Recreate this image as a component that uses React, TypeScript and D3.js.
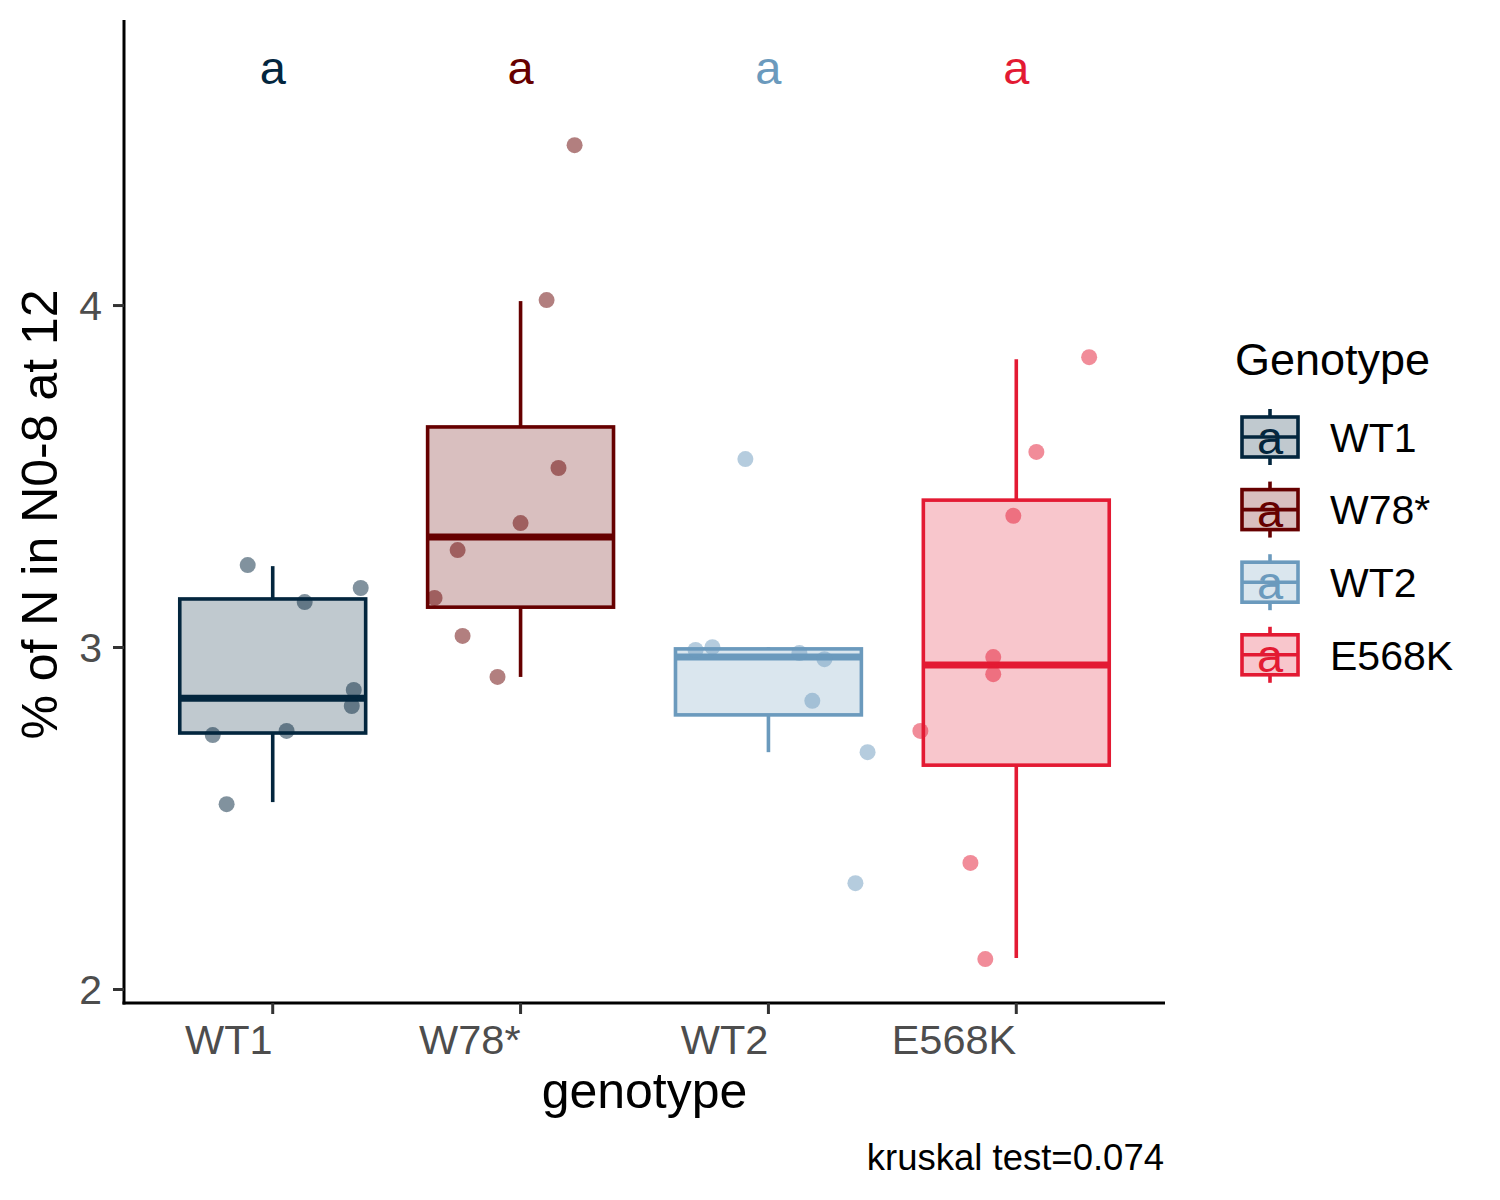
import { useMemo } from 'react'
import { scaleLinear, scalePoint } from 'd3'

// 유전자형별 N0-8 비율 박스플롯 — 박스 통계는 그림에서 읽은 값, 점은 지터 포함 개별 관측치.

const GENOTYPES = ['WT1', 'W78*', 'WT2', 'E568K']
const COLORS = ['#03263e', '#660000', '#6b9abd', '#e31a33']
const LETTERS = ['a', 'a', 'a', 'a']

// box stats: [lower whisker, q1, median, q3, upper whisker]
const WT1_BOX = [2.548, 2.75, 2.852, 3.142, 3.238]
const W78_BOX = [2.914, 3.118, 3.323, 3.645, 4.013]
const WT2_BOX = [2.694, 2.803, 2.972, 2.996, 3.001]
const E568K_BOX = [2.092, 2.656, 2.949, 3.431, 3.843]
const BOXES = [WT1_BOX, W78_BOX, WT2_BOX, E568K_BOX]

// observations + horizontal jitter (category units)
const WT1_VALUES = [3.241, 3.174, 3.133, 2.876, 2.829, 2.756, 2.744, 2.542]
const WT1_JITTER = [-0.101, 0.355, 0.129, 0.327, 0.319, 0.056, -0.242, -0.186]
const W78_VALUES = [4.469, 4.016, 3.525, 3.364, 3.285, 3.145, 3.034, 2.914]
const W78_JITTER = [0.218, 0.105, 0.153, 0.0, -0.254, -0.347, -0.234, -0.093]
const WT2_VALUES = [3.551, 2.993, 3.001, 2.984, 2.966, 2.844, 2.694, 2.311]
const WT2_JITTER = [-0.093, -0.294, -0.226, 0.125, 0.226, 0.177, 0.4, 0.351]
const E568K_VALUES = [3.849, 3.572, 3.385, 2.972, 2.922, 2.756, 2.37, 2.089]
const E568K_JITTER = [0.294, 0.081, -0.012, -0.093, -0.093, -0.387, -0.185, -0.125]
const VALUES = [WT1_VALUES, W78_VALUES, WT2_VALUES, E568K_VALUES]
const JITTER = [WT1_JITTER, W78_JITTER, WT2_JITTER, E568K_JITTER]

const Y_TICKS = [2, 3, 4]
const Y_DOMAIN = [1.9605, 4.835]
const LETTER_Y = 4.648
const CAPTION = 'kruskal test=0.074'

const W = 1500
const H = 1200
const PANEL = { left: 124, right: 1165, top: 20, bottom: 1003 }
const FONT = '"Liberation Sans", Arial, Helvetica, sans-serif'

export default function App() {
  const x = useMemo(
    () => scalePoint<string>().domain(GENOTYPES).range([PANEL.left, PANEL.right]).padding(0.6),
    [],
  )
  const y = useMemo(() => scaleLinear().domain(Y_DOMAIN).range([PANEL.bottom, PANEL.top]), [])
  const step = x.step()
  const boxW = step * 0.75

  return (
    <svg width={W} height={H} viewBox={`0 0 ${W} ${H}`} style={{ display: 'block', position: 'absolute', left: 0, top: 0, fontFamily: FONT }}>
      <rect x={0} y={0} width={W} height={H} fill="#fff" />

      {/* boxes */}
      {GENOTYPES.map((g, i) => {
        const cx = x(g) ?? 0
        const [lo, q1, med, q3, hi] = BOXES[i]
        const c = COLORS[i]
        return (
          <g key={g}>
            <line x1={cx} x2={cx} y1={y(q3)} y2={y(hi)} stroke={c} strokeWidth={3.6} />
            <line x1={cx} x2={cx} y1={y(q1)} y2={y(lo)} stroke={c} strokeWidth={3.6} />
            <rect x={cx - boxW / 2} y={y(q3)} width={boxW} height={y(q1) - y(q3)} fill={c} fillOpacity={0.25} stroke={c} strokeWidth={3.6} />
            <line x1={cx - boxW / 2} x2={cx + boxW / 2} y1={y(med)} y2={y(med)} stroke={c} strokeWidth={7} />
          </g>
        )
      })}

      {/* jittered points */}
      {GENOTYPES.map((g, i) =>
        VALUES[i].map((v, j) => (
          <circle key={`${g}-${j}`} cx={(x(g) ?? 0) + JITTER[i][j] * step} cy={y(v)} r={8} fill={COLORS[i]} fillOpacity={0.5} />
        )),
      )}

      {/* group letters */}
      {GENOTYPES.map((g, i) => (
        <text key={`l-${g}`} x={x(g)} y={y(LETTER_Y)} textAnchor="middle" fontSize={47} fontFamily={FONT} fill={COLORS[i]}>
          {LETTERS[i]}
        </text>
      ))}

      {/* axes */}
      <line x1={PANEL.left} x2={PANEL.left} y1={PANEL.top} y2={PANEL.bottom + 1.5} stroke="#000" strokeWidth={3} />
      <line x1={PANEL.left - 1.5} x2={PANEL.right} y1={PANEL.bottom} y2={PANEL.bottom} stroke="#000" strokeWidth={3} />
      {Y_TICKS.map((t) => (
        <g key={t}>
          <line x1={PANEL.left - 11} x2={PANEL.left} y1={y(t)} y2={y(t)} stroke="#333" strokeWidth={3} />
          <text x={PANEL.left - 22} y={y(t)} dy="0.36em" textAnchor="end" fontSize={41} fontFamily={FONT} fill="#4d4d4d">
            {t}
          </text>
        </g>
      ))}
      {GENOTYPES.map((g) => (
        <g key={`xt-${g}`}>
          <line x1={x(g)} x2={x(g)} y1={PANEL.bottom} y2={PANEL.bottom + 11} stroke="#333" strokeWidth={3} />
          <text x={x(g)} y={1054} textAnchor="end" fontSize={41.5} fontFamily={FONT} fill="#4d4d4d">
            {g}
          </text>
        </g>
      ))}

      {/* axis titles */}
      <text x={(PANEL.left + PANEL.right) / 2} y={1108} textAnchor="middle" fontSize={50} fontFamily={FONT} fill="#000">
        genotype
      </text>
      <text transform={`translate(57, ${(PANEL.top + PANEL.bottom) / 2 + 3}) rotate(-90)`} textAnchor="middle" fontSize={50} fontFamily={FONT} fill="#000">
        % of N in N0-8 at 12
      </text>
      <text x={PANEL.right - 1} y={1170} textAnchor="end" fontSize={36.5} fontFamily={FONT} fill="#000">
        {CAPTION}
      </text>

      {/* legend */}
      <text x={1235} y={375} fontSize={45} fontFamily={FONT} fill="#000">
        Genotype
      </text>
      {GENOTYPES.map((g, i) => {
        const cy = 437 + i * 72.6
        const c = COLORS[i]
        return (
          <g key={`lg-${g}`}>
            <line x1={1270} x2={1270} y1={cy - 28} y2={cy + 28} stroke={c} strokeWidth={3.6} />
            <rect x={1242} y={cy - 20} width={56} height={40} fill="#fff" />
            <rect x={1242} y={cy - 20} width={56} height={40} fill={c} fillOpacity={0.25} stroke={c} strokeWidth={3.6} />
            <line x1={1242} x2={1298} y1={cy} y2={cy} stroke={c} strokeWidth={3.6} />
            <text x={1270} y={cy + 17} textAnchor="middle" fontSize={47} fontFamily={FONT} fill={c}>
              a
            </text>
            <text x={1330} y={cy} dy="0.36em" fontSize={41} fontFamily={FONT} fill="#000">
              {g}
            </text>
          </g>
        )
      })}
    </svg>
  )
}
